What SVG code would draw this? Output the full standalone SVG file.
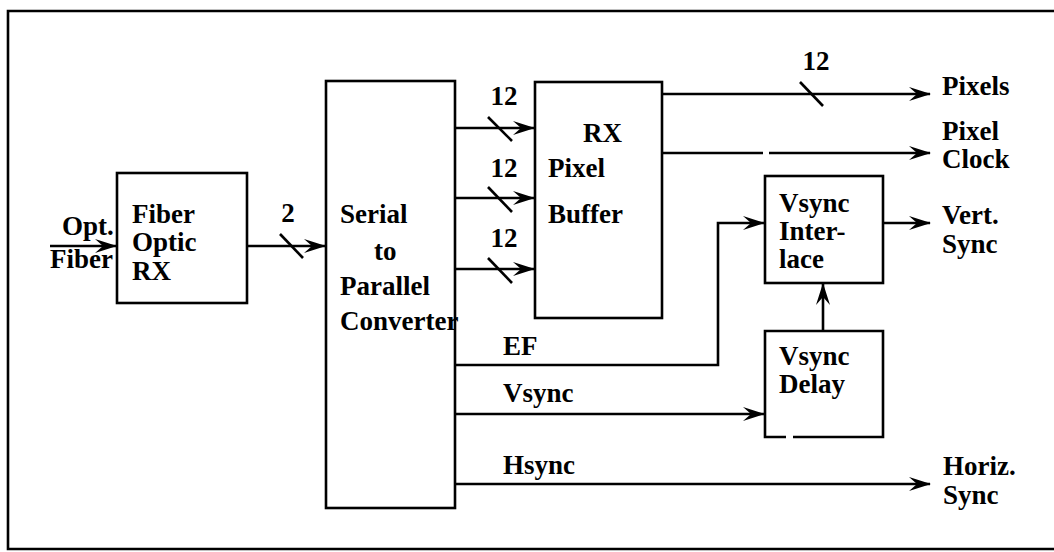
<svg xmlns="http://www.w3.org/2000/svg" width="1054" height="552" viewBox="0 0 1054 552">
<style>
.b{fill:none;stroke:#000;stroke-width:2.6}
.c{fill:none;stroke:#000;stroke-width:2.6;marker-end:url(#ah)}
.s{fill:none;stroke:#000;stroke-width:2.6}
text{font-family:"Liberation Serif","Times New Roman",serif;font-weight:bold;font-size:27px;fill:#000}
</style>
<defs>
<marker id="ah" markerUnits="userSpaceOnUse" markerWidth="24" markerHeight="16" viewBox="-22 -8 24 16" refX="0" refY="0" orient="auto">
<path d="M1,0 L-21,-7 L-13,0 L-21,7 Z" fill="#000"/>
</marker>
</defs>
<path class="b" d="M1054,11 H8 V549 H1054"/>
<g id="connectors">
<path class="c" d="M50,246 H116"/>
<path class="c" d="M247,246 H325"/>
<path class="s" d="M280,234 L303,258"/>
<path class="c" d="M455,128 H534"/>
<path class="s" d="M488,117 L512,141"/>
<path class="c" d="M455,198 H534"/>
<path class="s" d="M488,187 L512,212"/>
<path class="c" d="M455,269 H534"/>
<path class="s" d="M488,258 L512,283"/>
<path class="c" d="M662,94 H930"/>
<path class="s" d="M800,82 L823,106"/>
<path class="s" d="M662,153 H763"/>
<path class="c" d="M769,153 H930"/>
<path class="c" d="M883,223 H930"/>
<path class="c" d="M455,365 H718 V223 H764"/>
<path class="c" d="M455,414 H764"/>
<path class="c" d="M455,484 H930"/>
<path class="c" d="M823,330 V284"/>
</g>
<g id="fiber-optic-rx">
<rect class="b" x="117" y="173" width="130" height="130"/>
<text x="132" y="223">Fiber</text>
<text x="132" y="251">Optic</text>
<text x="132" y="280">RX</text>
</g>
<g id="labels">
<text x="62" y="235">Opt.</text>
<text x="50" y="268">Fiber</text>
<text x="288" y="222" text-anchor="middle">2</text>
<text x="504" y="105" text-anchor="middle">12</text>
<text x="504" y="177" text-anchor="middle">12</text>
<text x="504" y="247" text-anchor="middle">12</text>
<text x="816" y="70" text-anchor="middle">12</text>
<text x="942" y="95">Pixels</text>
<text x="942" y="140">Pixel</text>
<text x="942" y="168">Clock</text>
<text x="942" y="224">Vert.</text>
<text x="942" y="253">Sync</text>
<text x="943" y="475">Horiz.</text>
<text x="943" y="504">Sync</text>
<text x="503" y="355">EF</text>
<text x="503" y="402">Vsync</text>
<text x="503" y="474">Hsync</text>
</g>
<g id="serial-to-parallel">
<rect class="b" x="326" y="81" width="129" height="427"/>
<text x="340" y="223">Serial</text>
<text x="374" y="260">to</text>
<text x="340" y="295">Parallel</text>
<text x="340" y="330">Converter</text>
</g>
<g id="rx-pixel-buffer">
<rect class="b" x="535" y="82" width="127" height="236"/>
<text x="583" y="142">RX</text>
<text x="548" y="177">Pixel</text>
<text x="548" y="223">Buffer</text>
</g>
<g id="vsync-interlace">
<rect class="b" x="765" y="176" width="118" height="107"/>
<text x="779" y="212">Vsync</text>
<text x="779" y="240">Inter-</text>
<text x="779" y="268">lace</text>
</g>
<g id="vsync-delay">
<path class="b" d="M786,437 H765 V331 H883 V437 H793"/>
<text x="779" y="365">Vsync</text>
<text x="779" y="393">Delay</text>
</g>
</svg>
